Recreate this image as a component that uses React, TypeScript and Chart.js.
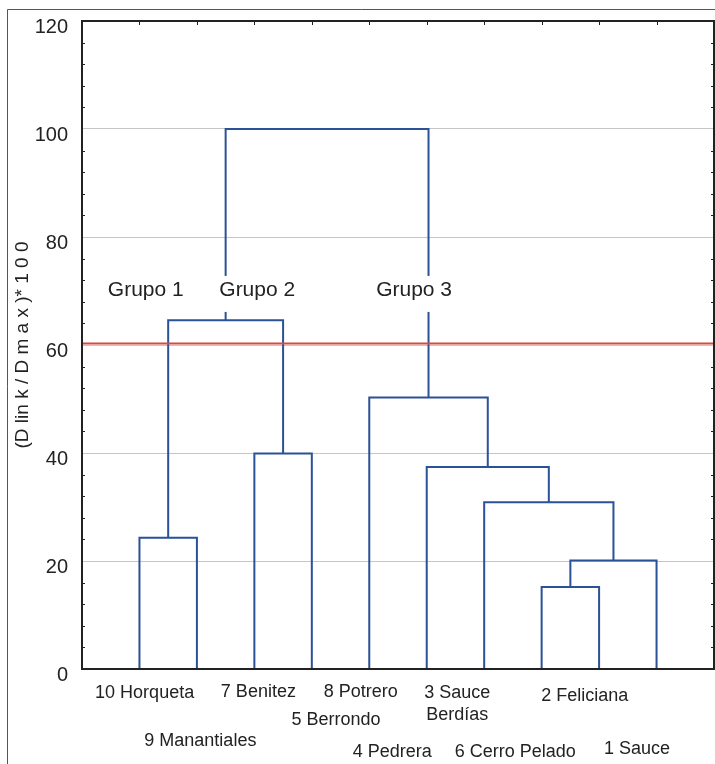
import { useEffect, useRef } from 'react';
import { Chart, registerables } from 'chart.js';
Chart.register(...registerables);

// ---- data ----
const leafNames = [
  '10 Horqueta', '9 Manantiales', '7 Benitez', '5 Berrondo', '8 Potrero',
  '4 Pedrera', '3 Sauce Berdías', '6 Cerro Pelado', '2 Feliciana', '1 Sauce',
];
const leafLabelLines = [
  ['10 Horqueta'], ['9 Manantiales'], ['7 Benitez'], ['5 Berrondo'], ['8 Potrero'],
  ['4 Pedrera'], ['3 Sauce', 'Berdías'], ['6 Cerro Pelado'], ['2 Feliciana'], ['1 Sauce'],
];
// merges: node ids 0..9 are leaves, 10.. are clusters in order
const mergeLeft = [0, 2, 10, 7, 13, 6, 5, 4, 12];
const mergeRight = [1, 3, 11, 8, 9, 14, 15, 16, 17];
const mergeHeight = [24.3, 39.9, 64.6, 15.2, 20.1, 30.9, 37.4, 50.3, 100];
const cutLevel = 60.3;
const groupNames = ['Grupo 1', 'Grupo 2', 'Grupo 3'];
const yTicks = [0, 20, 40, 60, 80, 100, 120];

// ---- layout (label placement, not data) ----
const leafLabelX = [1.09, 2.06, 3.07, 4.42, 4.85, 5.4, 6.53, 7.54, 8.75, 9.66];
const leafLabelDy = [24, 72, 23, 51, 23, 83, 24, 83, 27, 80];
const groupLabelX = [1.11, 3.05, 5.78];
const groupLabelY = 70.2;

const FONT = "'Liberation Sans', Arial, sans-serif";
const BLUE = '#2b5196';

function buildDendrogram() {
  const nLeaves = leafNames.length;
  const nodeX: number[] = [];
  const nodeH: number[] = [];
  for (let i = 0; i < nLeaves; i++) {
    nodeX.push(i + 1);
    nodeH.push(0);
  }
  const segments: { x: number; y: number }[][] = [];
  for (let m = 0; m < mergeHeight.length; m++) {
    const l = mergeLeft[m];
    const r = mergeRight[m];
    const h = mergeHeight[m];
    segments.push([
      { x: nodeX[l], y: nodeH[l] },
      { x: nodeX[l], y: h },
      { x: nodeX[r], y: h },
      { x: nodeX[r], y: nodeH[r] },
    ]);
    nodeX.push((nodeX[l] + nodeX[r]) / 2);
    nodeH.push(h);
  }
  return segments;
}

const decorPlugin = {
  id: 'decor',
  afterDatasetsDraw(chart: any) {
    const { ctx } = chart;
    const xs = chart.scales.x;
    const ys = chart.scales.y;
    ctx.save();
    ctx.font = `21px ${FONT}`;
    ctx.textAlign = 'center';
    ctx.textBaseline = 'middle';
    groupNames.forEach((g, i) => {
      const px = xs.getPixelForValue(groupLabelX[i]);
      const py = ys.getPixelForValue(groupLabelY);
      const w = ctx.measureText(g).width;
      ctx.fillStyle = '#ffffff';
      ctx.fillRect(px - w / 2 - 4, py - 14, w + 8, 36);
      ctx.fillStyle = '#222222';
      ctx.fillText(g, px, py);
    });
    ctx.restore();
  },
  afterDraw(chart: any) {
    const { ctx, chartArea: a } = chart;
    const xs = chart.scales.x;
    const ys = chart.scales.y;
    ctx.save();
    // outer frame
    ctx.strokeStyle = '#555555';
    ctx.lineWidth = 1;
    ctx.beginPath();
    ctx.moveTo(7.5, chart.height);
    ctx.lineTo(7.5, 9.5);
    ctx.lineTo(chart.width, 9.5);
    ctx.stroke();
    // plot border
    ctx.strokeStyle = '#222222';
    ctx.lineWidth = 2;
    ctx.strokeRect(a.left, a.top, a.right - a.left, a.bottom - a.top);
    // minor ticks on left/right
    ctx.lineWidth = 1;
    ctx.beginPath();
    for (let v = 4; v < 120; v += 4) {
      if (v % 20 === 0) continue;
      const py = Math.round(ys.getPixelForValue(v)) + 0.5;
      ctx.moveTo(a.left, py);
      ctx.lineTo(a.left + 3, py);
      ctx.moveTo(a.right, py);
      ctx.lineTo(a.right - 3, py);
    }
    // leaf ticks top
    for (let i = 0; i < leafNames.length; i++) {
      const px = Math.round(xs.getPixelForValue(i + 1)) + 0.5;
      ctx.moveTo(px, a.top);
      ctx.lineTo(px, a.top + 4);
    }
    ctx.stroke();
    // leaf labels
    ctx.fillStyle = '#222222';
    ctx.font = `18px ${FONT}`;
    ctx.textAlign = 'center';
    ctx.textBaseline = 'middle';
    leafLabelLines.forEach((lines, i) => {
      const px = xs.getPixelForValue(leafLabelX[i]);
      lines.forEach((t, j) => {
        ctx.fillText(t, px, a.bottom + leafLabelDy[i] + j * 22);
      });
    });
    ctx.restore();
  },
};

export default function App() {
  const ref = useRef<HTMLCanvasElement | null>(null);
  useEffect(() => {
    if (!ref.current) return;
    const segs = buildDendrogram();
    const datasets: any[] = segs.map((s) => ({
      data: s,
      borderColor: BLUE,
      borderWidth: 2,
      pointRadius: 0,
      showLine: true,
      fill: false,
      tension: 0,
      order: 1,
      borderJoinStyle: 'miter',
    }));
    datasets.push({
      data: [
        { x: 0, y: cutLevel },
        { x: leafNames.length + 1, y: cutLevel },
      ],
      borderColor: '#d64a40',
      borderWidth: 2,
      pointRadius: 0,
      showLine: true,
      fill: false,
      order: 0,
    });
    const chart = new Chart(ref.current, {
      type: 'scatter',
      data: { datasets },
      options: {
        animation: false,
        responsive: false,
        devicePixelRatio: 1,
        layout: { padding: { top: 21, right: 1, left: 0, bottom: 0 } },
        plugins: { legend: { display: false }, tooltip: { enabled: false } },
        scales: {
          x: {
            type: 'linear',
            min: 0,
            max: leafNames.length + 1,
            grid: { display: false },
            border: { display: false },
            ticks: { display: false },
            afterFit: (s: any) => {
              s.height = 95;
              s.paddingLeft = 0;
              s.paddingRight = 0;
            },
          },
          y: {
            type: 'linear',
            min: 0,
            max: 120,
            afterBuildTicks: (s: any) => {
              s.ticks = yTicks.map((v) => ({ value: v }));
            },
            grid: {
              drawTicks: false,
              color: (c: any) =>
                c.tick && c.tick.value > 0 && c.tick.value < 120 ? '#c6c6c6' : 'rgba(0,0,0,0)',
              lineWidth: 1,
            },
            border: { display: false },
            ticks: {
              color: '#222222',
              font: { family: FONT, size: 20 },
              padding: 14,
              labelOffset: 6,
            },
            title: {
              display: true,
              text: '(D lin k / D m a x )* 1 0 0',
              color: '#222222',
              font: { family: FONT, size: 19 },
              padding: { top: 11, bottom: 0 },
            },
            afterFit: (s: any) => {
              s.width = 82;
              s.paddingTop = 0;
              s.paddingBottom = 0;
            },
          },
        },
      },
      plugins: [decorPlugin],
    });
    return () => chart.destroy();
  }, []);
  return (
    <div style={{ position: 'absolute', left: 0, top: 0, width: 715, height: 764, background: '#fff' }}>
      <canvas ref={ref} width={715} height={764} style={{ display: 'block' }} />
    </div>
  );
}
